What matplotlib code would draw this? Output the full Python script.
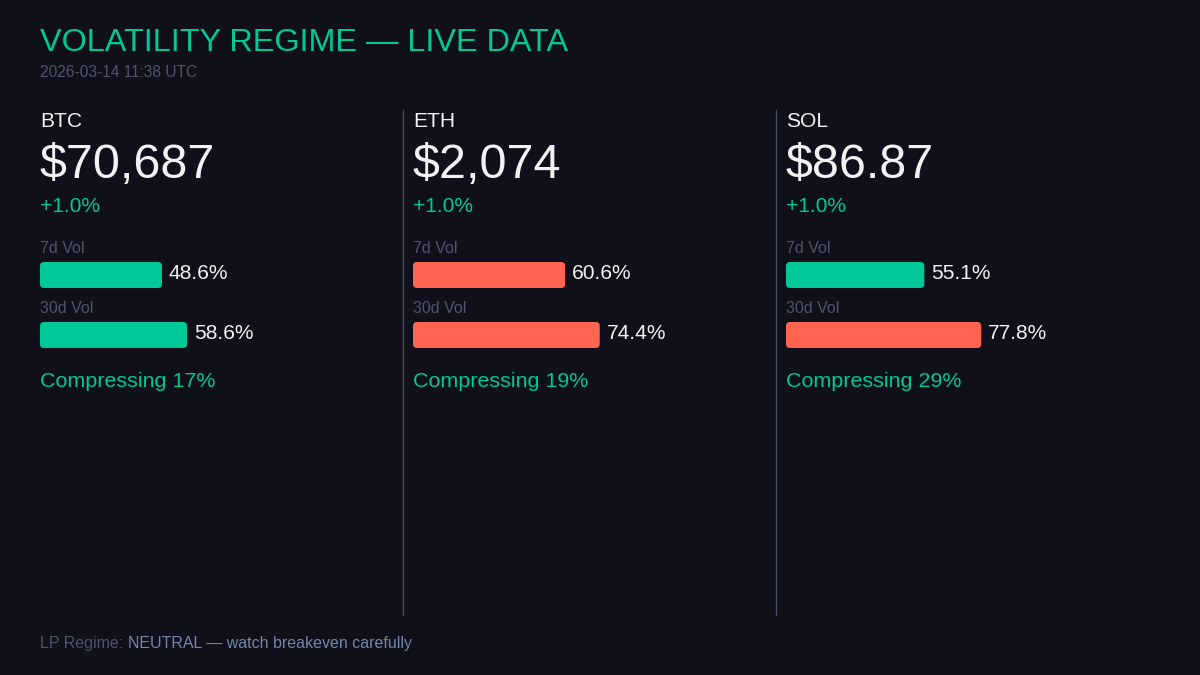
import matplotlib
matplotlib.use("Agg")
from matplotlib import pyplot as plt
from matplotlib.patches import FancyBboxPatch

assets = ["BTC", "ETH", "SOL"]
prices = ["$70,687", "$2,074", "$86.87"]
change_pct = [1.0, 1.0, 1.0]
vol_7d = [48.6, 60.6, 55.1]
vol_30d = [58.6, 74.4, 77.8]
compressing = [17, 19, 29]
timestamp = "2026-03-14 11:38 UTC"
regime = "NEUTRAL"

BG = "#0f1019"
GREEN = "#00c896"
RED = "#ff6450"
WHITE = "#f2f2f2"
GREY = "#4f5468"
SEP = "#474d63"
BLUEGREY = "#7584aa"

W, H = 1200, 675
COL_X = [40, 413, 786]
PX_PER_PCT = 2.51
HOT_VOL = 60


def px(size):
    # pixel size -> points at dpi 100
    return size * 0.72


plt.rcParams["font.family"] = ["Liberation Sans", "DejaVu Sans"]

fig = plt.figure(figsize=(W / 100, H / 100), dpi=100, facecolor=BG)
ax = fig.add_axes([0, 0, 1, 1])
ax.set_facecolor(BG)
ax.set_xlim(0, W)
ax.set_ylim(H, 0)
ax.axis("off")

ax.text(40, 51, "VOLATILITY REGIME \u2014 LIVE DATA", color=GREEN,
        fontsize=px(32.4), va="baseline")
ax.text(40, 77, timestamp, color=GREY, fontsize=px(15.5), va="baseline")


def draw_bar(x, y, value):
    color = RED if value >= HOT_VOL else GREEN
    w = value * PX_PER_PCT
    ax.add_patch(FancyBboxPatch((x, y), w, 26,
                                boxstyle="round,pad=0,rounding_size=4",
                                fc=color, ec="none"))
    ax.text(x + w + 7, y + 17, f"{value:.1f}%", color=WHITE,
            fontsize=px(21), va="baseline")


for i, name in enumerate(assets):
    x = COL_X[i]
    if i > 0:
        ax.plot([x - 10, x - 10], [110, 615], color=SEP, lw=1)
    ax.text(x, 127, name, color=WHITE, fontsize=px(21), va="baseline")
    ax.text(x, 178, prices[i], color=WHITE, fontsize=px(48.5), va="baseline")
    ax.text(x, 212, f"{change_pct[i]:+.1f}%", color=GREEN,
            fontsize=px(21), va="baseline")
    ax.text(x, 253, "7d Vol", color=GREY, fontsize=px(16), va="baseline")
    draw_bar(x, 262, vol_7d[i])
    ax.text(x, 313, "30d Vol", color=GREY, fontsize=px(16), va="baseline")
    draw_bar(x, 322, vol_30d[i])
    ax.text(x, 387, f"Compressing {compressing[i]}%", color=GREEN,
            fontsize=px(21.5), va="baseline")

lbl = ax.text(40, 648, "LP Regime: ", color=GREY, fontsize=px(16),
              va="baseline")
ax.annotate(f"{regime} \u2014 watch breakeven carefully", xy=(1, 0),
            xycoords=lbl, va="bottom", ha="left", color=BLUEGREY,
            fontsize=px(16))

fig.savefig("out.png", dpi=100, facecolor=BG)
